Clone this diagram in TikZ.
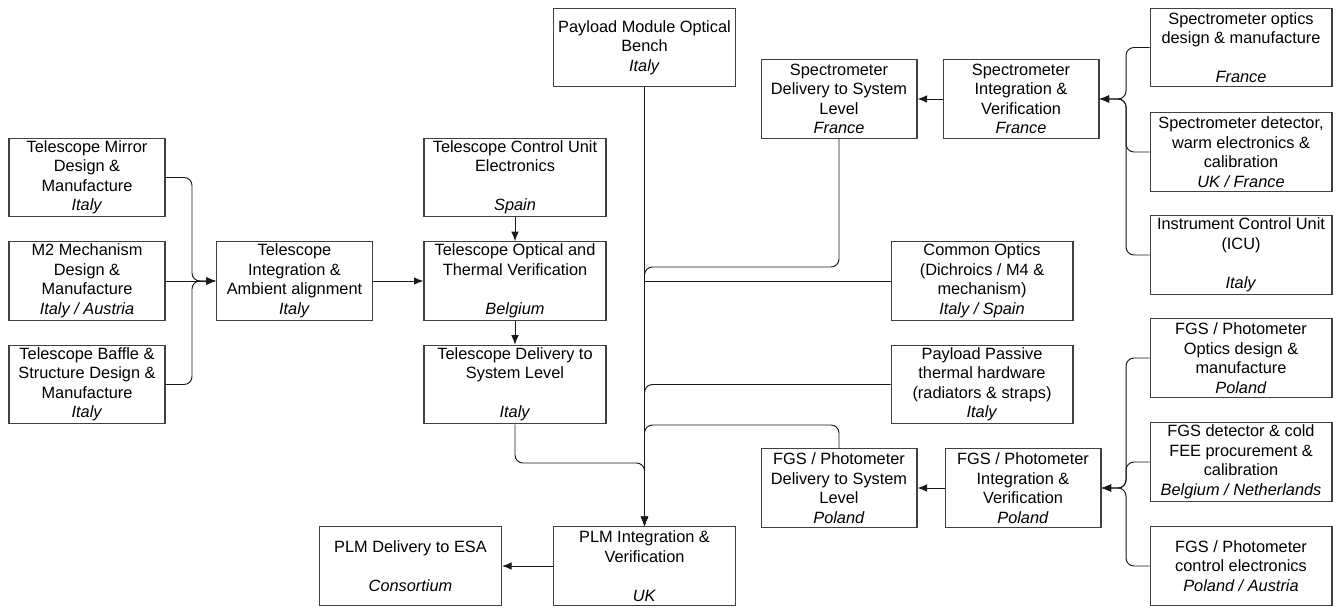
\documentclass[tikz,border=0pt]{standalone}
\usepackage{fontspec}
\setmainfont{Liberation Sans}
\usetikzlibrary{arrows.meta}

\begin{document}
\begin{tikzpicture}
[x=0.02cm,y=-0.02cm,>={Latex[length=1.9mm,width=1.5mm]},
every node/.style={draw=black!75,line width=0.6pt,align=center,inner sep=0pt,minimum height=1.57cm,font=\fontsize{9.3}{11.1}\selectfont},
narrow/.style={minimum width=3.12cm},
wide/.style={minimum width=3.64cm},
link/.style={draw=black!90,line width=0.55pt,rounded corners=1.6mm}]
\useasboundingbox (0,0) rectangle (1337,608);

% telescope
\node[narrow] (tmirror) at (87,177.5) {Telescope Mirror\\Design \&\\Manufacture\\\textit{Italy}};
\node[narrow] (tm2) at (87,281) {M2 Mechanism\\Design \&\\Manufacture\\\textit{Italy / Austria}};
\node[narrow] (tbaffle) at (87,384.5) {Telescope Baffle \&\\Structure Design \&\\Manufacture\\\textit{Italy}};
\node[narrow] (tint) at (294.5,281) {Telescope\\Integration \&\\Ambient alignment\\\textit{Italy}};
\node[wide] (tcu) at (515,177.5) {Telescope Control Unit\\Electronics\\~\\\textit{Spain}};
\node[wide] (totv) at (515,281) {Telescope Optical and\\Thermal Verification\\~\\\textit{Belgium}};
\node[wide] (tdel) at (515,384.5) {Telescope Delivery to\\System Level\\~\\\textit{Italy}};

% payload module
\node[wide] (pmob) at (644.5,47.5) {Payload Module Optical\\Bench\\\textit{Italy}};
\node[wide] (plm) at (644.5,566) {PLM Integration \&\\Verification\\~\\\textit{UK}};
\node[wide] (plmesa) at (410.5,566) {PLM Delivery to ESA\\~\\\textit{Consortium}};
\node[wide] (common) at (982,281) {Common Optics\\(Dichroics / M4 \&\\mechanism)\\\textit{Italy / Spain}};
\node[wide] (passive) at (982,384.5) {Payload Passive\\thermal hardware\\(radiators \& straps)\\\textit{Italy}};

% spectrometer
\node[narrow] (sdel) at (839,99) {Spectrometer\\Delivery to System\\Level\\\textit{France}};
\node[narrow] (sint) at (1021,99) {Spectrometer\\Integration \&\\Verification\\\textit{France}};
\node[wide] (sopt) at (1241,47.5) {Spectrometer optics\\design \& manufacture\\~\\\textit{France}};
\node[wide] (sdet) at (1241,152) {Spectrometer detector,\\warm electronics \&\\calibration\\\textit{UK / France}};
\node[wide] (icu) at (1241,255) {Instrument Control Unit\\(ICU)\\~\\\textit{Italy}};

% FGS / photometer
\node[narrow] (fdel) at (839,488) {FGS / Photometer\\Delivery to System\\Level\\\textit{Poland}};
\node[narrow] (fint) at (1023,488) {FGS / Photometer\\Integration \&\\Verification\\\textit{Poland}};
\node[wide] (fopt) at (1241,358) {FGS / Photometer\\Optics design \&\\manufacture\\\textit{Poland}};
\node[wide] (fdet) at (1241,462) {FGS detector \& cold\\FEE procurement \&\\calibration\\\textit{Belgium / Netherlands}};
\node[wide] (fctl) at (1241,566) {FGS / Photometer\\control electronics\\\textit{Poland / Austria}};

\coordinate (tbus) at (192,281);
\coordinate (sbus) at (1126,99);
\coordinate (fbus) at (1126,488);
\coordinate (jspec) at (644.5,267);
\coordinate (jcom) at (644.5,281);
\coordinate (jfgs) at (644.5,425);
\coordinate (jtel) at (644.5,463);

\foreach \from/\to in {tint/totv,tcu/totv,totv/tdel,pmob/plm,plm/plmesa,sint/sdel,fint/fdel,tm2/tint}
\draw[link,->] (\from) -- (\to);

\foreach \from/\to in {tmirror/tint,tbaffle/tint}
\draw[link,->] (\from.east) -| (tbus) -- (\to.west);
\foreach \from in {sopt,sdet,icu}
\draw[link,->] (\from.west) -| (sbus) -- (sint.east);
\foreach \from in {fopt,fdet,fctl}
\draw[link,->] (\from.west) -| (fbus) -- (fint.east);

\draw[link,->] (sdel.south) |- (jspec) -- (plm.north);
\draw[link] (common.west) -- (jcom);
\draw[link,->] (passive.west) -| (plm.north);
\draw[link,->] (fdel.north) |- (jfgs) -- (plm.north);
\draw[link,->] (tdel.south) |- (jtel) -- (plm.north);
\end{tikzpicture}
\end{document}
